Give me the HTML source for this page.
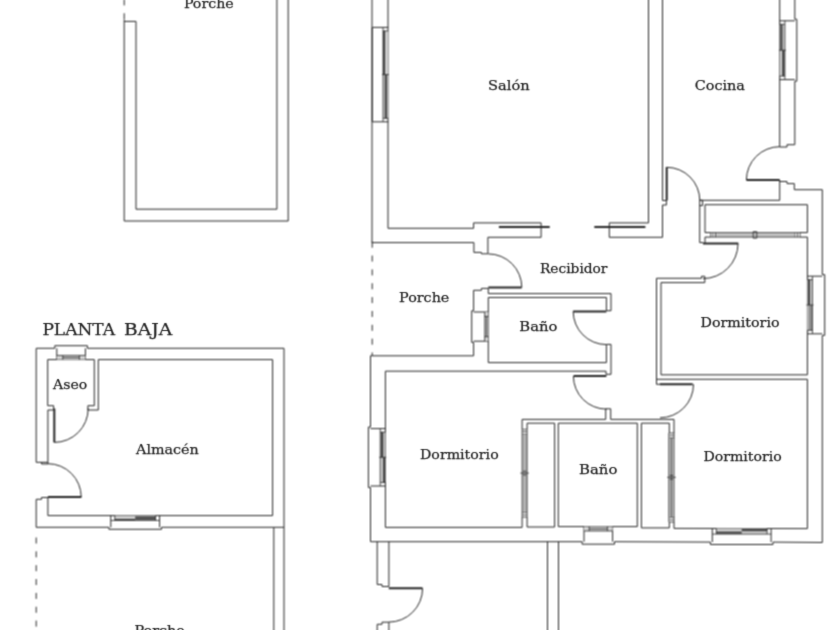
<!DOCTYPE html>
<html lang="es"><head><meta charset="utf-8"><title>Plano</title>
<style>
html,body{margin:0;padding:0;background:#fff;}
body{width:840px;height:630px;overflow:hidden;}
svg{display:block;}
text{font-family:"DejaVu Serif","Liberation Serif",serif;fill:#222;stroke:#222;stroke-width:0.25px;}
</style></head><body>
<svg width="840" height="630" viewBox="0 0 840 630">
<rect width="840" height="630" fill="#fff"/>
<defs><filter id="soft" filterUnits="userSpaceOnUse" x="-10" y="-10" width="860" height="650" color-interpolation-filters="sRGB"><feConvolveMatrix order="3" kernelMatrix="0.0676 0.1248 0.0676 0.1248 0.2304 0.1248 0.0676 0.1248 0.0676" divisor="1" edgeMode="duplicate" preserveAlpha="false"/></filter></defs>
<g filter="url(#soft)">
<rect x="-10" y="-10" width="860" height="650" fill="#fff"/>
<g stroke="none">
<rect x="716" y="232.9" width="78" height="4" fill="#c2c2c2"/>
<rect x="522.3" y="434.8" width="4.8" height="76.8" fill="#b2b2b2"/>
<rect x="668.8" y="438.5" width="5.2" height="78.1" fill="#cacaca"/>
</g>
<g fill="none" stroke="#252525" stroke-width="1" stroke-linejoin="miter">
<path d="M124.2,19.5 L124.2,221 L288.2,221 L288.2,-2"/>
<path d="M124.2,21.4 L136,21.4 L136,209.2 L276.9,209.2 L276.9,-2"/>
<path d="M372,-2 L372,242.6 L473.9,242.6 L473.9,252.4 L481.4,252.4 L481.4,253.8 L487.9,253.8"/>
<path d="M388,-2 L388,228.3 L473.6,228.3 L473.6,222.9 L541.1,222.9 L541.1,237.3 L487.9,237.3 L487.9,253.8"/>
<path d="M388.2,27.4 L372.3,27.4"/>
<path d="M388.2,121.8 L372.3,121.8"/>
<path d="M372.3,27.4 L372.3,121.8"/>
<path d="M648.5,-2 L648.5,222.9 L609.3,222.9 L609.3,237.3 L662.5,237.3 L662.5,205"/>
<path d="M662.5,-2 L662.5,200.5 L666.4,200.5 L666.4,205 L662.5,205"/>
<path d="M666.60,167.30 A33.2,33.2 0 0 1 699.80,200.50"/>
<path d="M699.7,200.3 L702.6,200.3 L702.6,205.6 L699.7,205.6"/>
<path d="M699.7,242.6 L699.7,200.3 L779.7,200.3 L779.7,180"/>
<path d="M779.7,-2 L779.7,147 L787,147 L787,144.7 L794.8,144.7 L794.8,81.2"/>
<path d="M794.8,19.2 L794.8,-2"/>
<path d="M779.7,20.8 L794.8,20.8"/>
<path d="M779.7,79.6 L794.8,79.6"/>
<path d="M794.8,19.2 L796.8,19.2 L796.8,81.2 L794.8,81.2"/>
<path d="M779.70,146.70 A33.3,33.3 0 0 0 746.40,180.00"/>
<path d="M779.7,181.5 L787,181.5 L787,183.6 L794.3,183.6 L794.3,189.7 L822.3,189.7 L822.3,274.6"/>
<path d="M822.3,335.4 L822.3,542.5"/>
<path d="M710.7,232.6 L705,232.6 L705,204.7 L807.4,204.7 L807.4,232.6 L800,232.6"/>
<path d="M800,237.1 L807.4,237.1 L807.4,374.8"/>
<path d="M807.4,379.3 L807.4,528.6"/>
<path d="M710.7,237.1 L705,237.1 L705,243.6"/>
<path d="M699.7,242.6 L703,242.6"/>
<path d="M738.00,243.60 A35,35 0 0 1 703.00,278.60"/>
<path d="M807.3,276.2 L822.3,276.2"/>
<path d="M807.3,333.8 L822.3,333.8"/>
<path d="M822.3,274.6 L824.7,274.6 L824.7,335.4 L822.3,335.4"/>
<path d="M656.5,384.3 L656.5,278.3 L701.5,278.3 L701.5,276.3 L704.8,276.3 L704.8,282.6 L661,282.6 L661,374.8 L807.4,374.8"/>
<path d="M656.5,379.3 L807.4,379.3"/>
<path d="M656.5,384.3 L660,384.3"/>
<path d="M693.50,384.30 A33.5,33.5 0 0 1 660.00,417.80"/>
<path d="M488.30,253.90 A33.5,33.5 0 0 1 521.80,287.40"/>
<path d="M473.6,310.8 L473.6,290.3 L481.4,290.3 L481.4,288.4 L488.3,288.4 L488.3,293.6 L611,293.6 L611,310.7 L606.4,310.7 L606.4,297.5 L488.3,297.5 L488.3,362.6 L606.4,362.6 L606.4,344.4 L611,344.4 L611,374.3 L606,374.3 L606,371.2"/>
<path d="M488.3,312 L473.6,312"/>
<path d="M488.3,341.2 L473.6,341.2"/>
<path d="M473.6,310.8 L471.7,310.8 L471.7,342.4 L473.6,342.4"/>
<path d="M473.6,342.4 L473.6,355.8 L370.5,355.8"/>
<path d="M573.20,311.40 A33.2,33.2 0 0 0 606.40,344.60"/>
<path d="M370.5,355.8 L370.5,427"/>
<path d="M370.5,487.6 L370.5,541.7"/>
<path d="M606,371.2 L385.4,371.2 L385.4,527.4 L522.1,527.4 L522.1,517.1"/>
<path d="M385.4,428.6 L370.5,428.6"/>
<path d="M385.4,486 L370.5,486"/>
<path d="M370.5,427 L368.4,427 L368.4,487.6 L370.5,487.6"/>
<path d="M573.40,376.10 A33,33 0 0 0 606.40,409.10"/>
<path d="M522.1,429.3 L522.1,419.4 L605.7,419.4 L605.7,408.8 L610.7,408.8 L610.7,419.4 L674,419.4 L674,433"/>
<path d="M527.1,429.3 L527.1,423.2 L554.6,423.2 L554.6,527 L527.1,527 L527.1,517.1"/>
<path d="M558.3,423.2 L637.3,423.2 L637.3,526.6 L558.3,526.6Z"/>
<path d="M584,526.6 L584,541.7"/>
<path d="M612.6,526.6 L612.6,541.7"/>
<path d="M582.1,541.7 L582.1,544.2 L614.5,544.2 L614.5,541.7"/>
<path d="M669.3,433 L669.3,423.2 L641.4,423.2 L641.4,527.9 L669.3,527.9 L669.3,522.1"/>
<path d="M674,522.1 L674,528.4 L807.4,528.6"/>
<path d="M712.3,528.5 L712.3,542.1"/>
<path d="M771.1,528.5 L771.1,542.1"/>
<path d="M710.4,542.1 L710.4,544.5 L773,544.5 L773,542.1"/>
<path d="M370.5,541.7 L582.1,541.7"/>
<path d="M614.5,541.7 L710.4,542.1"/>
<path d="M773,542.1 L822.3,542.5"/>
<path d="M377.2,541.7 L377.2,584.5 L382,584.5 L382,586.5 L388.9,586.5 L388.9,541.7"/>
<path d="M422.60,588.30 A33.8,33.8 0 0 1 388.80,622.10"/>
<path d="M377.2,632 L377.2,624.3 L382,624.3 L382,622.2 L388.9,622.2 L388.9,632"/>
<path d="M547.5,541.7 L547.5,632"/>
<path d="M558.5,541.7 L558.5,632"/>
<path d="M47.9,462.3 L36.2,462.3 L36.2,348.3 L54.8,348.3"/>
<path d="M87.4,348.3 L284,348.3 L284,632"/>
<path d="M94.3,359.6 L47.7,359.6 L47.7,405.7 L53.6,405.7 L53.6,410 L47.9,410 L47.9,464 L41.5,464 L41.5,462.3"/>
<path d="M94.3,359.6 L94.3,405.7 L87.9,405.7 L87.9,410 L98.3,410 L98.3,359.6 L272.6,359.6 L272.6,515.6 L47.9,515.6"/>
<path d="M56.8,359.6 L56.8,348.3"/>
<path d="M85.4,359.6 L85.4,348.3"/>
<path d="M54.8,348.3 L54.8,345.7 L87.4,345.7 L87.4,348.3"/>
<path d="M54.30,442.40 A33.9,33.9 0 0 0 88.20,408.50"/>
<path d="M47.90,463.70 A33.3,33.3 0 0 1 81.20,497.00"/>
<path d="M47.9,515.6 L47.9,497.5 L41.5,497.5 L41.5,499.3 L36.2,499.3 L36.2,527.3 L108.9,527.3"/>
<path d="M110.8,515.6 L110.8,527.3"/>
<path d="M159.6,515.6 L159.6,527.3"/>
<path d="M108.9,527.3 L108.9,529.3 L161.5,529.3 L161.5,527.3"/>
<path d="M161.5,527.3 L284,527.3"/>
<path d="M273.8,527.3 L273.8,632"/>
</g>
<g fill="none" stroke="#252525" stroke-width="1" stroke-dasharray="6 7.85">
<path d="M124.2,-0.6 L124.2,21"/>
<path d="M372.2,241.7 L372.2,355.7"/>
<path d="M36.2,537.5 L36.2,632"/>
</g>
<g fill="none" stroke="#252525" stroke-width="2">
<path d="M498.9,227.1 L549.7,227.1"/>
<path d="M594.3,227.1 L645.4,227.1"/>
<path d="M666.7,167.1 L666.7,200.5"/>
<path d="M746.4,180 L779.7,180"/>
<path d="M703,243.6 L738.3,243.6"/>
<path d="M660,384.3 L692.7,384.3"/>
<path d="M488.3,287.4 L521.7,287.4"/>
<path d="M573.1,311.4 L606.4,311.4"/>
<path d="M573.6,376.1 L606.4,376.1"/>
<path d="M388.8,588.3 L422.5,588.3"/>
<path d="M54.3,408.5 L54.3,442.4"/>
<path d="M47.9,497 L81.4,497"/>
</g>
<g fill="#cecece" stroke="none">
<rect x="484.7" y="316.5" width="3.6" height="20.2"/>
<rect x="589.2" y="526.6" width="18.2" height="4.4"/>
<rect x="62.8" y="355.4" width="16.6" height="4.2"/>
</g>
<g fill="#d2d2d2" stroke="none">
<rect x="383" y="30.9" width="5.2" height="87.4"/>
<rect x="779.7" y="24.3" width="5.2" height="51.8"/>
<rect x="807.3" y="279.7" width="5.2" height="50.6"/>
<rect x="484.7" y="312" width="3.6" height="4.5"/>
<rect x="484.7" y="336.7" width="3.6" height="4.5"/>
<rect x="380.2" y="432.1" width="5.2" height="50.4"/>
<rect x="584" y="526.6" width="5.2" height="4.4"/>
<rect x="607.4" y="526.6" width="5.2" height="4.4"/>
<rect x="716.3" y="528.5" width="50.8" height="5.6"/>
<rect x="56.8" y="355.4" width="6" height="4.2"/>
<rect x="79.4" y="355.4" width="6" height="4.2"/>
<rect x="114.8" y="515.6" width="40.8" height="4.9"/>
</g>
<g stroke="none">
<rect x="383" y="30.9" width="2.2" height="43.7" fill="#484848"/>
<rect x="384.8" y="74.6" width="2.3" height="43.7" fill="#484848"/>
<rect x="780.3" y="24.3" width="2.3" height="25.9" fill="#484848"/>
<rect x="782.1" y="50.2" width="2.4" height="25.9" fill="#484848"/>
<rect x="807.9" y="279.7" width="2.3" height="25.3" fill="#484848"/>
<rect x="808.7" y="305" width="3.6" height="25.3" fill="#8c8c8c"/>
<rect x="381" y="432.1" width="2.4" height="25.2" fill="#484848"/>
<rect x="382.9" y="457.3" width="2.2" height="25.2" fill="#484848"/>
<rect x="716.3" y="531.5" width="25.4" height="2.2" fill="#484848"/>
<rect x="741.7" y="529" width="25.4" height="2.3" fill="#484848"/>
<rect x="114.8" y="518.8" width="20.4" height="1.6" fill="#484848"/>
<rect x="135.2" y="516.5" width="20.4" height="3.2" fill="#484848"/>
</g>
<g fill="none" stroke="#252525" stroke-width="0.8">
<path d="M383,27.4 L383,121.8 M388.2,30.9 L383,30.9 M388.2,118.3 L383,118.3 M389,74.6 L382,74.6"/>
<path d="M784.9,20.8 L784.9,79.6 M779.7,24.3 L784.9,24.3 M779.7,76.1 L784.9,76.1 M778.9,50.2 L785.9,50.2"/>
<path d="M710.7,232.6 L800,232.6 M710.7,237.1 L800,237.1 M710.7,232.6 L710.7,237.1 M713,232.6 L713,237.1 M715.5,232.6 L715.5,237.1 M800,232.6 L800,237.1 M797.5,232.6 L797.5,237.1 M795,232.6 L795,237.1 M753.2,231.6 L756.8,231.6 L756.8,238.2 L753.2,238.2 Z"/>
<path d="M812.5,276.2 L812.5,333.8 M807.3,279.7 L812.5,279.7 M807.3,330.3 L812.5,330.3 M806.5,305 L813.5,305"/>
<path d="M484.7,312 L484.7,341.2 M488.3,316.5 L484.7,316.5 M488.3,336.7 L484.7,336.7"/>
<path d="M486.5,316.5 L486.5,336.7"/>
<path d="M380.2,428.6 L380.2,486 M385.4,432.1 L380.2,432.1 M385.4,482.5 L380.2,482.5 M386.2,457.3 L379.2,457.3"/>
<path d="M522.1,429.3 L522.1,517.1 M527.1,429.3 L527.1,517.1 M522.1,429.3 L527.1,429.3 M522.1,431.5 L527.1,431.5 M522.1,434 L527.1,434 M522.1,517.1 L527.1,517.1 M522.1,514.8 L527.1,514.8 M522.1,512.3 L527.1,512.3 M520.3,473.1 L528.9,473.1 M523,471.2 L526.2,471.2 M523,475 L526.2,475"/>
<path d="M584,531 L612.6,531 M589.2,526.6 L589.2,531 M607.4,526.6 L607.4,531"/>
<path d="M589.2,528.8 L607.4,528.8"/>
<path d="M668.8,433 L668.8,522.1 M674,433 L674,522.1 M671.4,438 L671.4,517 M669.3,433 L674.3,433 M669.3,435.3 L674.3,435.3 M669.3,437.8 L674.3,437.8 M669.3,522.1 L674.3,522.1 M669.3,519.8 L674.3,519.8 M669.3,517.3 L674.3,517.3 M667.2,477.3 L675.8,477.3 M669.8,475.4 L673,475.4 M669.8,479.2 L673,479.2"/>
<path d="M712.3,534.1 L771.1,534.1 M716.3,528.5 L716.3,534.1 M767.1,528.5 L767.1,534.1"/>
<path d="M56.8,355.4 L85.4,355.4 M62.8,359.6 L62.8,355.4 M79.4,359.6 L79.4,355.4"/>
<path d="M62.8,357.5 L79.4,357.5"/>
<path d="M110.8,520.5 L159.6,520.5 M114.8,515.6 L114.8,520.5 M155.6,515.6 L155.6,520.5"/>
</g>
</g>
<defs><filter id="g" filterUnits="userSpaceOnUse" x="-10" y="-10" width="860" height="650" color-interpolation-filters="sRGB"><feConvolveMatrix order="3" kernelMatrix="0.0169 0.0962 0.0169 0.0962 0.5476 0.0962 0.0169 0.0962 0.0169" divisor="1" edgeMode="duplicate" preserveAlpha="false"/><feColorMatrix type="saturate" values="0"/></filter></defs>
<g filter="url(#g)">
<text x="183.9" y="7.5" font-size="13.6" textLength="49.8" lengthAdjust="spacingAndGlyphs">Porche</text>
<text x="488" y="90.3" font-size="13.6" textLength="41.62" lengthAdjust="spacingAndGlyphs">Salón</text>
<text x="694.7" y="90.1" font-size="13.6" textLength="50.22" lengthAdjust="spacingAndGlyphs">Cocina</text>
<text x="540" y="272.7" font-size="13.6" textLength="67.45" lengthAdjust="spacingAndGlyphs">Recibidor</text>
<text x="399.1" y="301.5" font-size="13.6" textLength="50.27" lengthAdjust="spacingAndGlyphs">Porche</text>
<text x="519.3" y="330.9" font-size="13.6" textLength="38.1" lengthAdjust="spacingAndGlyphs">Baño</text>
<text x="700.5" y="327.1" font-size="13.6" textLength="79" lengthAdjust="spacingAndGlyphs">Dormitorio</text>
<text x="420" y="459.1" font-size="13.6" textLength="78.68" lengthAdjust="spacingAndGlyphs">Dormitorio</text>
<text x="579.1" y="474.1" font-size="13.6" textLength="38.3" lengthAdjust="spacingAndGlyphs">Baño</text>
<text x="703.4" y="460.6" font-size="13.6" textLength="78.4" lengthAdjust="spacingAndGlyphs">Dormitorio</text>
<text x="136.07" y="453.6" font-size="13.6" textLength="62.65" lengthAdjust="spacingAndGlyphs">Almacén</text>
<text x="53.08" y="388.9" font-size="13.6" textLength="34.12" lengthAdjust="spacingAndGlyphs">Aseo</text>
<text x="134.5" y="634.6" font-size="13.6" textLength="50.28" lengthAdjust="spacingAndGlyphs">Porche</text>
<text x="42.42" y="335.1" font-size="16.4"><tspan x="42.42" textLength="72.62" lengthAdjust="spacingAndGlyphs">PLANTA</tspan> <tspan x="124.03" textLength="48.1" lengthAdjust="spacingAndGlyphs">BAJA</tspan></text>
</g>
</svg>
</body></html>
